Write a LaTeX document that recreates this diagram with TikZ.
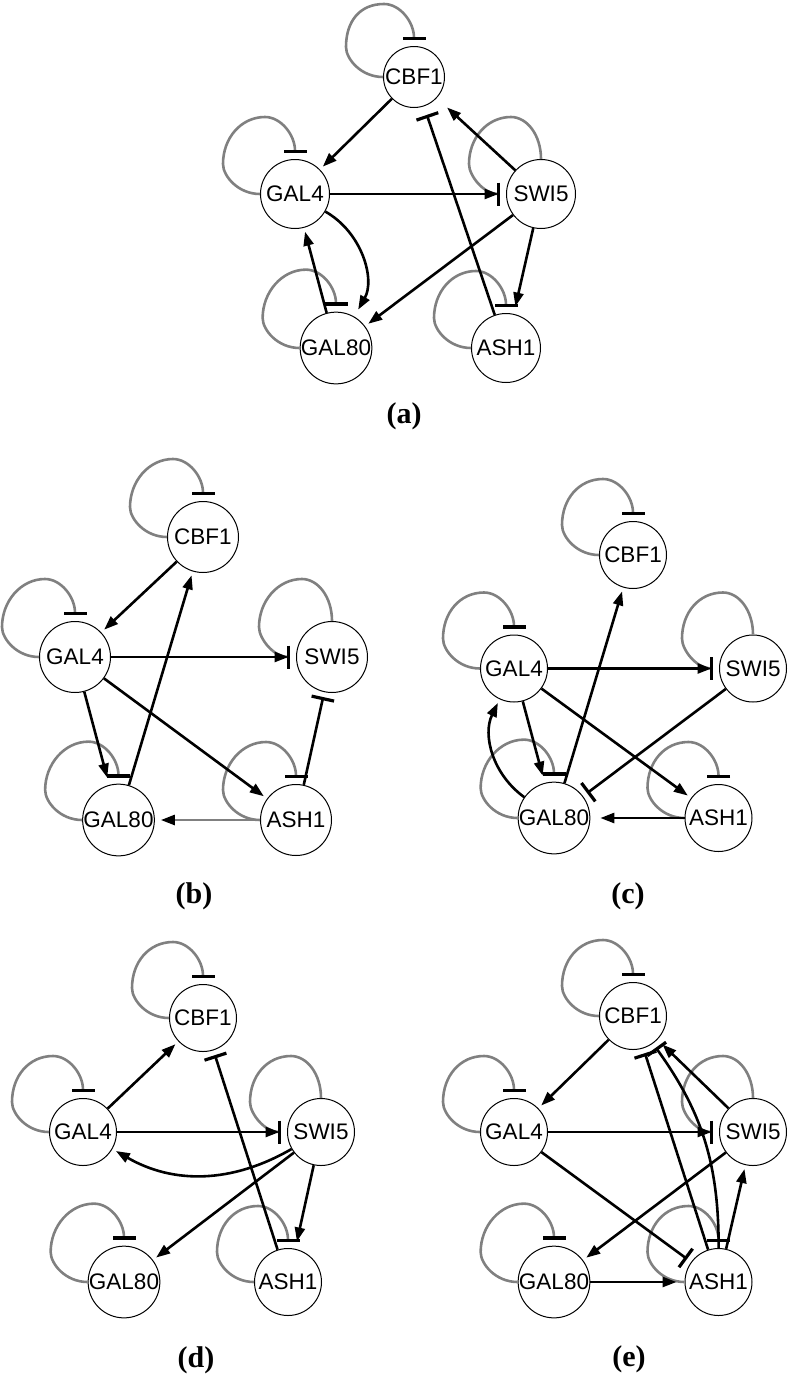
\documentclass[tikz,border=0pt]{standalone}
\usepackage{fontspec}
\usetikzlibrary{arrows.meta}
\newfontfamily\genefont{Liberation Sans}
\newfontfamily\panelfont{Liberation Serif}

\begin{document}
\begin{tikzpicture}[x=1pt,y=-1pt,
    gene/.style={circle,draw,line width=1pt,minimum size=67pt,inner sep=0pt,
        font=\genefont\fontsize{22.5}{26}\selectfont},
    act/.style={line width=2.6pt,-{Triangle[length=14pt,width=10pt]},shorten >=4pt},
    actgray/.style={act,draw=black!50,-{Triangle[length=14pt,width=10pt,color=black]}},
    inh/.style={line width=2.6pt,-{Bar[width=23pt,line width=3.2pt]},shorten >=5pt},
    selfinh/.style={draw=black!50,line width=2.6pt,-{Bar[width=23pt,line width=3.2pt,color=black]}},
    selfinhw/.style={draw=black!50,line width=2.6pt,{Bar[width=23pt,line width=3.2pt,color=black]}-},
    panel/.style={font=\panelfont\bfseries\fontsize{30}{34}\selectfont}]
    \useasboundingbox (0,0) rectangle (789,1376);

    % (a)
    \begin{scope}[gene/.append style={minimum size=69pt}]
        \node[gene,minimum size=61pt] (CBF1a) at (414,77) {CBF1};
        \node[gene] (GAL4a) at (295,194) {GAL4};
        \node[gene] (SWI5a) at (541,194) {SWI5};
        \node[gene] (GAL80a) at (336,348) {GAL80};
        \node[gene] (ASH1a) at (506,348) {ASH1};
    \end{scope}
    \node[panel] (labela) at (404,416) {(a)};

    % (b)
    \begin{scope}[gene/.append style={minimum size=71pt}]
        \node[gene] (CBF1b) at (203,537) {CBF1};
        \node[gene] (GAL4b) at (75,657) {GAL4};
        \node[gene] (SWI5b) at (332,657) {SWI5};
        \node[gene] (GAL80b) at (118.5,820) {GAL80};
        \node[gene] (ASH1b) at (296,820) {ASH1};
    \end{scope}
    \node[panel] (labelb) at (194,896) {(b)};

    % (c)
    \node[gene] (CBF1c) at (633,555) {CBF1};
    \node[gene] (GAL4c) at (514,668.5) {GAL4};
    \node[gene] (SWI5c) at (753,668.5) {SWI5};
    \node[gene] (GAL80c) at (554,818) {GAL80};
    \node[gene] (ASH1c) at (718.5,818) {ASH1};
    \node[panel] (labelc) at (628,896) {(c)};

    % (d)
    \node[gene] (CBF1d) at (203,1018) {CBF1};
    \node[gene] (GAL4d) at (83,1132) {GAL4};
    \node[gene] (SWI5d) at (321,1132) {SWI5};
    \node[gene] (GAL80d) at (124,1282) {GAL80};
    \node[gene] (ASH1d) at (288,1282) {ASH1};
    \node[panel] (labeld) at (196,1360) {(d)};

    % (e)
    \node[gene] (CBF1e) at (633,1016) {CBF1};
    \node[gene] (GAL4e) at (514,1132) {GAL4};
    \node[gene] (SWI5e) at (753,1132) {SWI5};
    \node[gene] (GAL80e) at (554,1282) {GAL80};
    \node[gene] (ASH1e) at (718.5,1282) {ASH1};
    \node[panel] (labele) at (629,1359) {(e)};

    % self loops
    \foreach \g in {CBF1a,GAL4a,GAL80a,ASH1a,CBF1b,GAL4b,GAL80b,ASH1b,
                    CBF1c,GAL4c,GAL80c,ASH1c,CBF1d,GAL4d,GAL80d,ASH1d,
                    CBF1e,GAL4e,GAL80e,ASH1e}
        \draw[selfinh] (\g.west) .. controls ([shift={(-22,0)}]\g.west)
            and ([shift={(-37,-18)}]\g.west) .. ([shift={(-37,-30)}]\g.west)
            .. controls ([shift={(-37,-56)}]\g.west) and ([shift={(-54,-42)}]\g.north)
            .. ([shift={(-30,-42)}]\g.north)
            .. controls ([shift={(-14,-42)}]\g.north) and ([shift={(0,-24)}]\g.north)
            .. ([shift={(0,-6)}]\g.north);
    \foreach \g in {SWI5a,SWI5b,SWI5c,SWI5d,SWI5e}
        \draw[selfinhw] ([shift={(-6,0)}]\g.west) .. controls ([shift={(-22,0)}]\g.west)
            and ([shift={(-37,-18)}]\g.west) .. ([shift={(-37,-30)}]\g.west)
            .. controls ([shift={(-37,-56)}]\g.west) and ([shift={(-54,-42)}]\g.north)
            .. ([shift={(-30,-42)}]\g.north)
            .. controls ([shift={(-14,-42)}]\g.north) and ([shift={(0,-24)}]\g.north)
            .. (\g.north);

    % edges (a)
    \draw[act] (CBF1a) -- (GAL4a);
    \draw[act,shorten >=7.5pt] (GAL4a) -- (SWI5a);
    \draw[act,shorten >=14pt] (SWI5a) -- (CBF1a);
    \draw[inh,shorten >=9pt] (ASH1a) -- (CBF1a);
    \draw[act,shorten >=7.5pt] (SWI5a) -- (ASH1a);
    \draw[act] (SWI5a) -- (GAL80a);
    \draw[act,shorten >=8pt] (GAL4a) to[bend left=45] (GAL80a);
    \draw[act] (GAL80a) -- (GAL4a);

    % edges (b)
    \draw[act] (CBF1b) -- (GAL4b);
    \draw[act,shorten >=7.5pt] (GAL4b) -- (SWI5b);
    \draw[act] (GAL80b) -- (CBF1b);
    \draw[act,shorten >=7.5pt] (GAL4b) -- (GAL80b);
    \draw[act] (GAL4b) -- (ASH1b);
    \draw[inh] (ASH1b) -- (SWI5b);
    \draw[actgray,shorten >=6pt] (ASH1b) -- (GAL80b);

    % edges (c)
    \draw[act] (GAL80c) -- (CBF1c);
    \draw[act,shorten >=7.5pt] (GAL4c) -- (SWI5c);
    \draw[act,shorten >=7.5pt] (GAL4c) -- (GAL80c);
    \draw[act] (GAL4c) -- (ASH1c);
    \draw[inh] (SWI5c) -- (GAL80c);
    \draw[act,shorten >=10pt] (ASH1c) -- (GAL80c);
    \draw[act] (GAL80c) to[bend left=40] (GAL4c);

    % edges (d)
    \draw[act] (GAL4d) -- (CBF1d);
    \draw[act,shorten >=7.5pt] (GAL4d) -- (SWI5d);
    \draw[inh] (ASH1d) -- (CBF1d);
    \draw[act] (SWI5d) to[bend left=30] (GAL4d);
    \draw[act] (SWI5d) -- (GAL80d);
    \draw[act,shorten >=7.5pt] (SWI5d) -- (ASH1d);

    % edges (e)
    \draw[act] (CBF1e) -- (GAL4e);
    \draw[act,shorten >=7.5pt] (GAL4e) -- (SWI5e);
    \draw[inh] (GAL4e) -- (ASH1e);
    \draw[act] (SWI5e) -- (GAL80e);
    \draw[act,shorten >=8pt] (GAL80e) -- (ASH1e);
    \draw[act,shorten >=7pt] (SWI5e) -- (CBF1e);
    \draw[inh] (ASH1e) -- (CBF1e);
    \draw[inh] (ASH1e) to[bend right=18] (CBF1e);
    \draw[act] (ASH1e) -- (SWI5e);
\end{tikzpicture}
\end{document}
